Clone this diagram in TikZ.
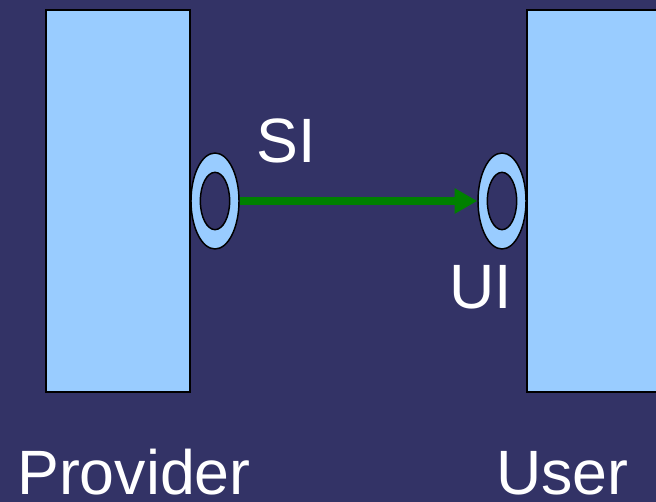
\documentclass[tikz,border=0pt]{standalone}
\usepackage{fontspec}
\setmainfont{Liberation Sans}
\usetikzlibrary{arrows.meta,shapes.geometric}

\definecolor{slide}{RGB}{51,51,102}
\definecolor{compblue}{RGB}{153,204,255}
\definecolor{flowgreen}{RGB}{0,128,0}

\begin{document}
\begin{tikzpicture}[
  x=0.75pt, y=-0.75pt,
  comp/.style={rectangle, draw=black, line width=1.1pt, fill=compblue, inner sep=0pt},
  ring/.style={ellipse, draw=black, line width=1.1pt, fill=compblue, inner sep=0pt, minimum width=36pt, minimum height=72pt},
  hole/.style={ellipse, draw=black, line width=1.1pt, fill=slide, inner sep=0pt, minimum width=22pt, minimum height=43pt},
  lbl/.style={text=white, inner sep=0pt, anchor=base, text depth=0pt, font=\fontsize{47}{50}\selectfont},
  flow/.style={draw=flowgreen, line width=6pt, -{Triangle[length=17pt,width=18pt]}}
]
\useasboundingbox (0,0) rectangle (656,502);
\fill[slide] (0,0) rectangle (656,502);
\clip (0,0) rectangle (656,502);

% components
\node[comp, minimum width=108pt, minimum height=286.5pt] (provider) at (118,201) {};
\node[comp, minimum width=130pt, minimum height=286.5pt] (user) at (613.5,201) {};

% interfaces
\node[ring] (si) at (215,201) {};
\node[hole] (sihole) at (si.center) {};
\node[ring] (ui) at (502,201) {};
\node[hole] (uihole) at (ui.center) {};

\draw[flow] (si.east) -- (ui.west);

% labels
\node[lbl] (silbl) at (286.5,163) {SI};
\node[lbl] (uilbl) at (481,308) {UI};
\node[lbl] (providerlbl) at (134,494) {Provider};
\node[lbl] (userlbl) at (562.5,494) {User};
\end{tikzpicture}
\end{document}
